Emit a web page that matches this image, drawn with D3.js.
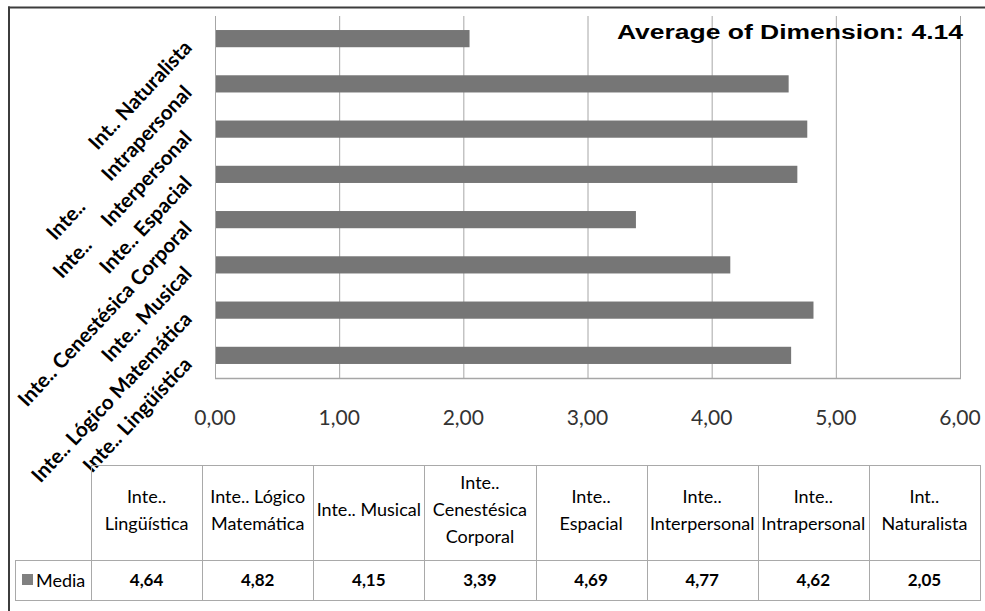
<!DOCTYPE html>
<html>
<head>
<meta charset="utf-8">
<script src="https://cdn.jsdelivr.net/npm/d3@7"></script>
<style>
  html, body { margin: 0; padding: 0; background: #fff; }
  svg { display: block; }
</style>
</head>
<body>
<svg id="chart" width="985" height="611"></svg>
<script>
// ---- data ----
const categories = [
  "Inte.. Lingüística",
  "Inte.. Lógico Matemática",
  "Inte.. Musical",
  "Inte.. Cenestésica Corporal",
  "Inte.. Espacial",
  "Inte.. Interpersonal",
  "Inte.. Intrapersonal",
  "Int.. Naturalista"
];
const headerLines = [
  ["Inte..", "Lingüística"],
  ["Inte.. Lógico", "Matemática"],
  ["Inte.. Musical"],
  ["Inte..", "Cenestésica", "Corporal"],
  ["Inte..", "Espacial"],
  ["Inte..", "Interpersonal"],
  ["Inte..", "Intrapersonal"],
  ["Int..", "Naturalista"]
];
const media = [4.64, 4.82, 4.15, 3.39, 4.69, 4.77, 4.62, 2.05];
const valueTicks = [0, 1, 2, 3, 4, 5, 6];
const seriesName = "Media";
const averageLabel = "Average of Dimension: 4.14";

// ---- drawing ----
const svg = d3.select("#chart");
const locale = d3.formatLocale({decimal: ",", thousands: ".", grouping: [3], currency: ["", ""]});
const fmt = locale.format(".2f");

const plot = {left: 215, right: 960, top: 16, bottom: 378};
const x = d3.scaleLinear().domain([0, 6]).range([plot.left, plot.right]);
const y = d3.scaleBand().domain(categories.slice().reverse())
  .range([plot.top, plot.bottom]).paddingInner(0.62).paddingOuter(0.31);

const gridColor = "#a6a6a6";

// gridlines
svg.append("g").selectAll("line").data(valueTicks).join("line")
  .attr("x1", d => x(d) + 0.5).attr("x2", d => x(d) + 0.5)
  .attr("y1", plot.top).attr("y2", plot.bottom)
  .attr("stroke", gridColor).attr("stroke-width", 1);
// bottom plot edge
svg.append("line")
  .attr("x1", plot.left).attr("x2", plot.right + 1)
  .attr("y1", plot.bottom + 0.5).attr("y2", plot.bottom + 0.5)
  .attr("stroke", gridColor).attr("stroke-width", 1.5);

// bars
svg.append("g").selectAll("rect").data(categories).join("rect")
  .attr("x", x(0) + 1)
  .attr("y", d => y(d))
  .attr("width", (d, i) => x(media[i]) - x(0) - 1)
  .attr("height", y.bandwidth())
  .attr("fill", "#767676");

// value tick labels
svg.append("g").selectAll("text").data(valueTicks).join("text")
  .attr("x", d => x(d)).attr("y", 425)
  .attr("text-anchor", "middle")
  .attr("font-family", "Lato, 'Open Sans', sans-serif")
  .attr("font-size", 21)
  .attr("fill", "#333")
  .text(d => fmt(d));

// category labels (rotated)
const labelGaps = {"Inte.. Interpersonal": 20, "Inte.. Intrapersonal": 30};
const catG = svg.append("g");
categories.forEach(c => {
  const cy = y(c) + y.bandwidth() / 2;
  const t = catG.append("text")
    .attr("transform", `translate(${plot.left - 22},${cy + 10}) rotate(-47)`)
    .attr("text-anchor", "end")
    .attr("font-family", "Lato, 'Open Sans', sans-serif")
    .attr("font-weight", "bold")
    .attr("font-size", 20.5)
    .attr("fill", "#000");
  const sp = c.indexOf(" ");
  t.append("tspan").text(c.slice(0, sp));
  t.append("tspan").attr("dx", labelGaps[c] || 0).text(" " + c.slice(sp + 1));
});

// average annotation
svg.append("text")
  .attr("x", 617).attr("y", 39)
  .attr("font-family", "'Liberation Sans', Arial, sans-serif")
  .attr("font-weight", "bold").attr("font-size", 20)
  .attr("textLength", 346).attr("lengthAdjust", "spacingAndGlyphs")
  .attr("fill", "#000")
  .text(averageLabel);

// ---- data table ----
const tbl = {left: 91, right: 980, top: 465, mid: 560, bottom: 600, keyLeft: 15};
const col = d3.scaleBand().domain(categories).range([tbl.left, tbl.right]);
const lineColor = "#a9a9a9";
const tg = svg.append("g");
// white backing so the table sits above overlapping labels
tg.append("rect").attr("x", tbl.left + 1).attr("y", tbl.top + 1)
  .attr("width", tbl.right - tbl.left - 1).attr("height", tbl.mid - tbl.top - 1).attr("fill", "none");
// horizontal lines
tg.append("line").attr("x1", tbl.left).attr("x2", tbl.right).attr("y1", tbl.top + 0.5).attr("y2", tbl.top + 0.5).attr("stroke", lineColor);
tg.append("line").attr("x1", tbl.keyLeft).attr("x2", tbl.right).attr("y1", tbl.mid + 0.5).attr("y2", tbl.mid + 0.5).attr("stroke", lineColor);
tg.append("line").attr("x1", tbl.keyLeft).attr("x2", tbl.right).attr("y1", tbl.bottom + 0.5).attr("y2", tbl.bottom + 0.5).attr("stroke", lineColor);
// vertical lines
tg.append("line").attr("x1", tbl.keyLeft + 0.5).attr("x2", tbl.keyLeft + 0.5).attr("y1", tbl.mid).attr("y2", tbl.bottom + 1).attr("stroke", lineColor);
const vx = categories.map(c => col(c)).concat([tbl.right]);
tg.selectAll("line.v").data(vx).join("line").attr("class", "v")
  .attr("x1", d => Math.round(d) + 0.5).attr("x2", d => Math.round(d) + 0.5)
  .attr("y1", tbl.top).attr("y2", tbl.bottom + 1).attr("stroke", lineColor);

// header text
const lineH = 27;
const headerMid = 510;
categories.forEach((c, i) => {
  const lines = headerLines[i];
  const cx = col(c) + col.bandwidth() / 2;
  const t = tg.append("text")
    .attr("text-anchor", "middle")
    .attr("font-family", "Lato, 'Open Sans', sans-serif")
    .attr("font-size", 18)
    .attr("fill", "#000");
  lines.forEach((ln, k) => {
    t.append("tspan").attr("x", cx)
      .attr("y", headerMid + (k - (lines.length - 1) / 2) * lineH + 6)
      .text(ln);
  });
});

// values row
tg.selectAll("text.val").data(categories).join("text").attr("class", "val")
  .attr("x", d => col(d) + col.bandwidth() / 2)
  .attr("y", 586)
  .attr("text-anchor", "middle")
  .attr("font-family", "Lato, 'Open Sans', sans-serif")
  .attr("font-weight", "bold")
  .attr("font-size", 17)
  .attr("fill", "#000")
  .text((d, i) => fmt(media[i]));

// legend key
tg.append("rect").attr("x", 22).attr("y", 574).attr("width", 11).attr("height", 11).attr("fill", "#808080");
tg.append("text").attr("x", 36).attr("y", 587)
  .attr("font-family", "Lato, 'Open Sans', sans-serif")
  .attr("font-size", 18).attr("fill", "#000")
  .text(seriesName);

// chart frame
svg.append("line").attr("x1", 8).attr("x2", 985).attr("y1", 7.5).attr("y2", 7.5).attr("stroke", "#3c3c3c").attr("stroke-width", 2);
svg.append("line").attr("x1", 9).attr("x2", 9).attr("y1", 6.5).attr("y2", 611).attr("stroke", "#3c3c3c").attr("stroke-width", 2);
</script>
</body>
</html>
